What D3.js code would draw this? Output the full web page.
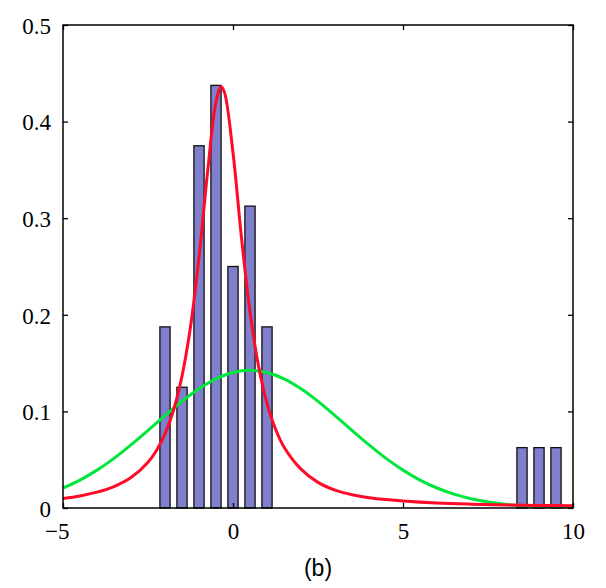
<!DOCTYPE html>
<html>
<head>
<meta charset="utf-8">
<script src="https://cdn.jsdelivr.net/npm/d3@7"></script>
<style>
  html, body { margin: 0; padding: 0; background: #fff; }
  svg { display: block; }
</style>
</head>
<body>
<svg id="chart" width="606" height="588"></svg>
<script>
// ---- data ----
const binCenters = [-2, -1.5, -1, -0.5, 0, 0.5, 1, 8.5, 9, 9.5];
const binHeights = [0.1875, 0.125, 0.375, 0.4375, 0.25, 0.3125, 0.1875, 0.0625, 0.0625, 0.0625];
const binWidth = 0.3;

const gaussX = [-5, -4.5, -4, -3.5, -3, -2.5, -2, -1.5, -1, -0.5, 0, 0.5, 1, 1.5, 2, 2.5, 3, 3.5, 4, 4.5, 5, 5.5, 6, 6.5, 7, 7.5, 8, 8.5, 9, 9.5, 10];
const gaussY = [0.0207, 0.0289, 0.0392, 0.0514, 0.0653, 0.0803, 0.0957, 0.1104, 0.1234, 0.1337, 0.1402, 0.1425, 0.1402, 0.1337, 0.1234, 0.1104, 0.0957, 0.0803, 0.0653, 0.0514, 0.0392, 0.0289, 0.0207, 0.0144, 0.0096, 0.0063, 0.0040, 0.0024, 0.0014, 0.0008, 0.0005];

const tX = [-5, -4.5, -4, -3.5, -3, -2.5, -2.25, -2, -1.75, -1.5, -1.25, -1, -0.75, -0.5, -0.35, -0.25, 0, 0.25, 0.5, 0.75, 1, 1.25, 1.5, 2, 2.5, 3, 3.5, 4, 4.5, 5, 6, 7, 8, 9, 10];
const tY = [0.0098, 0.0125, 0.0164, 0.0222, 0.0315, 0.0474, 0.0596, 0.0767, 0.1012, 0.1365, 0.1877, 0.2594, 0.347, 0.4203, 0.436, 0.430, 0.3678, 0.2796, 0.2030, 0.1471, 0.1084, 0.0818, 0.0632, 0.0402, 0.0265, 0.0185, 0.0138, 0.0107, 0.0088, 0.0073, 0.0052, 0.0040, 0.0032, 0.0027, 0.0024];

const xTicks = [-5, 0, 5, 10];
const yTicks = [0, 0.1, 0.2, 0.3, 0.4, 0.5];
const xTickLabels = ["\u22125", "0", "5", "10"];
const yTickLabels = ["0", "0.1", "0.2", "0.3", "0.4", "0.5"];
const caption = "(b)";

// ---- layout ----
const pL = 63, pR = 573, pT = 25, pB = 508;
const svg = d3.select("#chart");

const x = d3.scaleLinear().domain([-5, 10]).range([pL, pR]);
const y = d3.scaleLinear().domain([0, 0.5]).range([pB, pT]);

// bars
svg.append("g")
  .selectAll("rect")
  .data(binCenters.map((c, i) => ({c, h: binHeights[i]})))
  .join("rect")
  .attr("x", d => x(d.c - binWidth / 2))
  .attr("width", d => x(d.c + binWidth / 2) - x(d.c - binWidth / 2))
  .attr("y", d => y(d.h))
  .attr("height", d => y(0) - y(d.h))
  .attr("fill", "#7f7fcc")
  .attr("stroke", "#111")
  .attr("stroke-width", 1.3);

const line = d3.line()
  .x(d => x(d[0]))
  .y(d => y(d[1]))
  .curve(d3.curveCatmullRom.alpha(0.5));

svg.append("clipPath").attr("id", "clip")
  .append("rect").attr("x", pL).attr("y", pT).attr("width", pR - pL).attr("height", pB - pT);

svg.append("path")
  .datum(gaussX.map((v, i) => [v, gaussY[i]]))
  .attr("d", line)
  .attr("fill", "none")
  .attr("stroke", "#00e63c")
  .attr("stroke-width", 3)
  .attr("clip-path", "url(#clip)");

svg.append("path")
  .datum(tX.map((v, i) => [v, tY[i]]))
  .attr("d", line)
  .attr("fill", "none")
  .attr("stroke", "#ff0a28")
  .attr("stroke-width", 3)
  .attr("clip-path", "url(#clip)");

// axes (box with inward ticks on all sides)
const tickLen = 5;
const xAxisB = d3.axisBottom(x).tickValues(xTicks).tickSize(-tickLen).tickFormat((d, i) => xTickLabels[i]).tickPadding(15);
const xAxisT = d3.axisTop(x).tickValues(xTicks).tickSize(-tickLen).tickFormat("");
const yAxisL = d3.axisLeft(y).tickValues(yTicks).tickSize(-tickLen).tickFormat((d, i) => yTickLabels[i]).tickPadding(12);
const yAxisR = d3.axisRight(y).tickValues(yTicks).tickSize(-tickLen).tickFormat("");

function styleAxis(g) {
  g.attr("font-family", "'Liberation Serif', 'Times New Roman', serif").attr("font-size", 23);
  g.select(".domain").remove();
  g.selectAll(".tick line").attr("stroke", "#000").attr("stroke-width", 1.3);
  g.selectAll(".tick text").attr("fill", "#000");
}

svg.append("g").attr("transform", `translate(0,${pB})`).call(xAxisB).call(styleAxis)
  .selectAll(".tick text")
  .attr("text-anchor", (d) => d < 0 ? "end" : "middle")
  .attr("dx", (d) => d < 0 ? "6" : "0");
svg.append("g").attr("transform", `translate(0,${pT})`).call(xAxisT).call(styleAxis);
svg.append("g").attr("transform", `translate(${pL},0)`).call(yAxisL).call(styleAxis)
  .selectAll(".tick text").attr("dy", "0.36em");
svg.append("g").attr("transform", `translate(${pR},0)`).call(yAxisR).call(styleAxis);

// frame
svg.append("rect")
  .attr("x", pL).attr("y", pT)
  .attr("width", pR - pL).attr("height", pB - pT)
  .attr("fill", "none").attr("stroke", "#000").attr("stroke-width", 1.5);

// caption
svg.append("text")
  .attr("x", 318)
  .attr("y", 576)
  .attr("text-anchor", "middle")
  .attr("font-family", "'Liberation Sans', Arial, sans-serif")
  .attr("font-size", 23)
  .attr("fill", "#000")
  .text(caption);
</script>
</body>
</html>
